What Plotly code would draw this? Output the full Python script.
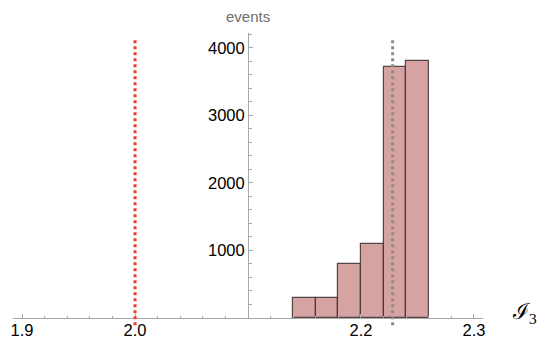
import plotly.graph_objects as go

# Histogram bins (left edges) and event counts
bin_left = [2.14, 2.16, 2.18, 2.20, 2.22, 2.24]
bin_width = 0.02
counts = [300, 300, 800, 1100, 3710, 3810]

# Reference markers
ref_value = 2.0       # red dotted line
mean_value = 2.228    # gray dotted line

# Axis setup
x_range = [1.892, 2.308]
y_range = [0, 4220]
axis_origin_x = 2.1
x_major = [1.9, 2.0, 2.2, 2.3]
y_major = [1000, 2000, 3000, 4000]

centers = [b + bin_width / 2 for b in bin_left]

fig = go.Figure()
fig.add_trace(go.Bar(
    x=centers, y=counts, width=[bin_width] * len(counts),
    marker=dict(color="#d5a3a2", line=dict(color="rgba(60,45,45,0.85)", width=1.2)),
    showlegend=False, hoverinfo="x+y",
))

for xv, col, w in [(ref_value, "#f03a2e", 3), (mean_value, "#8c8c8c", 3)]:
    fig.add_shape(type="line", xref="x", yref="paper", x0=xv, x1=xv,
                  y0=-0.025, y1=0.985,
                  line=dict(color=col, width=w, dash="dot"), layer="above")

y_pos = (axis_origin_x - x_range[0]) / (x_range[1] - x_range[0])

font = dict(family="Liberation Sans, Arial, sans-serif", size=16.5, color="black")

fig.update_layout(
    width=541, height=338,
    margin=dict(l=13, r=58, t=33, b=20, autoexpand=False),
    plot_bgcolor="white", paper_bgcolor="white",
    font=font,
    bargap=0,
    xaxis=dict(
        range=x_range, tickvals=x_major, ticktext=[f"{v:.1f}" for v in x_major],
        showgrid=False, zeroline=False, showline=True, linecolor="#a8a8a8", linewidth=1,
        ticks="inside", ticklen=4, tickcolor="#a8a8a8", tickwidth=1,
        minor=dict(dtick=0.02, tick0=1.9, ticks="inside", ticklen=2.5, tickcolor="#a8a8a8"),
        tickfont=font, anchor="y", automargin=False, ticklabelstandoff=-3,
    ),
    yaxis=dict(
        range=y_range, tickvals=y_major,
        showgrid=False, zeroline=False, showline=True, linecolor="#a8a8a8", linewidth=1,
        ticks="inside", ticklen=4, tickcolor="#a8a8a8", tickwidth=1,
        minor=dict(dtick=200, tick0=0, ticks="inside", ticklen=2.5, tickcolor="#a8a8a8"),
        tickfont=font, anchor="free", position=y_pos, automargin=False,
    ),
    annotations=[
        dict(text="events", xref="x", yref="paper", x=axis_origin_x, y=1.0,
             yanchor="bottom", yshift=6, showarrow=False,
             font=dict(family="Liberation Sans, Arial, sans-serif", size=15, color="#6e6e6e")),
        dict(text="ℐ<sub>3</sub>", xref="paper", yref="paper", x=1.0, y=0.0,
             xanchor="left", yanchor="middle", xshift=27, yshift=5, showarrow=False,
             font=dict(family="Liberation Serif, DejaVu Serif, serif", size=22, color="black")),
    ],
)

fig.write_html("out.html")
